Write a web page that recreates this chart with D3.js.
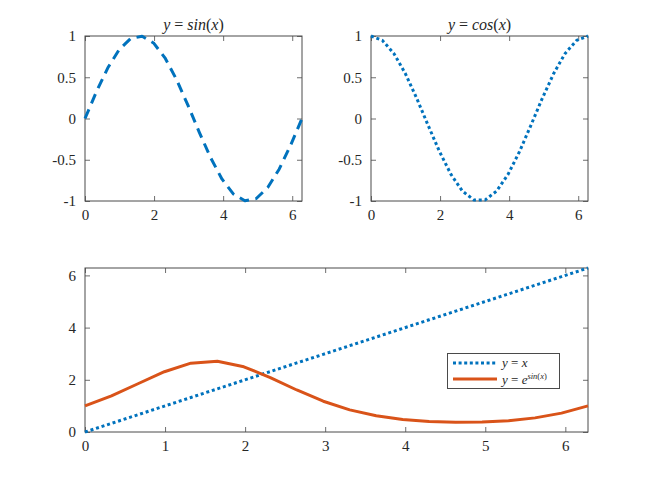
<!DOCTYPE html>
<html>
<head>
<meta charset="utf-8">
<script src="https://cdn.jsdelivr.net/npm/d3@7"></script>
<style>
  html, body { margin: 0; padding: 0; background: #ffffff; }
</style>
</head>
<body>
<svg id="chart" width="650" height="487"></svg>
<script>
// x samples (20 points from 0 to 2*pi)
const xs = [0, 0.3307, 0.6614, 0.9921, 1.3228, 1.6535, 1.9842, 2.3149, 2.6456, 2.9762,
            3.3069, 3.6376, 3.9683, 4.2990, 4.6297, 4.9604, 5.2911, 5.6218, 5.9525, 6.2832];
const sinVals = [0, 0.3247, 0.6142, 0.8372, 0.9694, 0.9966, 0.9158, 0.7357, 0.4759, 0.1646,
                 -0.1646, -0.4759, -0.7357, -0.9158, -0.9966, -0.9694, -0.8372, -0.6142, -0.3247, 0];
const cosVals = [1, 0.9458, 0.7891, 0.5469, 0.2455, -0.0826, -0.4017, -0.6773, -0.8795, -0.9864,
                 -0.9864, -0.8795, -0.6773, -0.4017, -0.0826, 0.2455, 0.5469, 0.7891, 0.9458, 1];
const linVals = [0, 0.3307, 0.6614, 0.9921, 1.3228, 1.6535, 1.9842, 2.3149, 2.6456, 2.9762,
                 3.3069, 3.6376, 3.9683, 4.2990, 4.6297, 4.9604, 5.2911, 5.6218, 5.9525, 6.2832];
const expSinVals = [1, 1.3836, 1.8482, 2.3099, 2.6364, 2.7091, 2.4988, 2.0870, 1.6095, 1.1789,
                    0.8482, 0.6213, 0.4792, 0.4002, 0.3691, 0.3793, 0.4329, 0.5411, 0.7228, 1];

const topXTicks = [0, 2, 4, 6];
const topYTicks = [-1, -0.5, 0, 0.5, 1];
const topYTickLabels = ["-1", "-0.5", "0", "0.5", "1"];
const botXTicks = [0, 1, 2, 3, 4, 5, 6];
const botYTicks = [0, 2, 4, 6];

const BLUE = "#0072BD", ORANGE = "#D95319", AX = "#4a4a4a";
const FONT = "Liberation Serif";
const svg = d3.select("#chart");

function makeAxes(box, xDom, yDom, xt, yt, ytl) {
  const x = d3.scaleLinear().domain(xDom).range([box.x0, box.x1]);
  const y = d3.scaleLinear().domain(yDom).range([box.y1, box.y0]);
  const g = svg.append("g");
  const tl = 5;
  g.append("g").attr("transform", `translate(0,${box.y1})`)
    .call(d3.axisBottom(x).tickValues(xt).tickSizeInner(-tl).tickSizeOuter(0).tickPadding(8).tickFormat(d3.format("d")));
  g.append("g").attr("transform", `translate(0,${box.y0})`)
    .call(d3.axisTop(x).tickValues(xt).tickSizeInner(-tl).tickSizeOuter(0).tickFormat(""));
  g.append("g").attr("transform", `translate(${box.x0},0)`)
    .call(d3.axisLeft(y).tickValues(yt).tickSizeInner(-tl).tickSizeOuter(0).tickPadding(9)
      .tickFormat((d, i) => ytl ? ytl[i] : d3.format("d")(d)));
  g.append("g").attr("transform", `translate(${box.x1},0)`)
    .call(d3.axisRight(y).tickValues(yt).tickSizeInner(-tl).tickSizeOuter(0).tickFormat(""));
  g.selectAll("g").attr("font-family", FONT);
  g.selectAll(".domain").remove();
  g.selectAll(".tick line").attr("stroke", AX).attr("stroke-width", 0.8);
  g.selectAll(".tick text").attr("font-size", 15).attr("fill", "#262626");
  g.append("rect").attr("x", box.x0).attr("y", box.y0)
    .attr("width", box.x1 - box.x0).attr("height", box.y1 - box.y0)
    .attr("fill", "none").attr("stroke", AX).attr("stroke-width", 1);
  return {x, y, g};
}

function drawLine(ax, ys, color, dash, width) {
  const line = d3.line().x((d, i) => ax.x(xs[i])).y(d => ax.y(d));
  svg.append("path").datum(ys).attr("d", line)
    .attr("fill", "none").attr("stroke", color).attr("stroke-width", width)
    .attr("stroke-linejoin", "round")
    .attr("stroke-dasharray", dash || null);
}

function mathTitle(cx, y, parts) {
  const t = svg.append("text").attr("x", cx).attr("y", y).attr("text-anchor", "middle")
    .attr("font-size", 16).attr("font-family", FONT).attr("fill", "#262626");
  parts.forEach(p => {
    const s = t.append("tspan").text(p[0]);
    if (p[1]) s.attr("font-style", "italic");
  });
}

const twoPi = 6.2832;
// Top-left: sin
const a1 = makeAxes({x0: 85, x1: 302, y0: 36, y1: 201}, [0, twoPi], [-1, 1], topXTicks, topYTicks, topYTickLabels);
drawLine(a1, sinVals, BLUE, "10,6.5", 3);
mathTitle((85 + 302) / 2, 30, [["y", 1], [" = ", 0], ["sin", 1], ["(", 0], ["x", 1], [")", 0]]);

// Top-right: cos
const a2 = makeAxes({x0: 371, x1: 588, y0: 36, y1: 201}, [0, twoPi], [-1, 1], topXTicks, topYTicks, topYTickLabels);
drawLine(a2, cosVals, BLUE, "3,2.8", 3);
mathTitle((371 + 588) / 2, 30, [["y", 1], [" = ", 0], ["cos", 1], ["(", 0], ["x", 1], [")", 0]]);

// Bottom
const a3 = makeAxes({x0: 85, x1: 588, y0: 268, y1: 432}, [0, twoPi], [0, twoPi], botXTicks, botYTicks, null);
drawLine(a3, linVals, BLUE, "3,2.8", 3);
drawLine(a3, expSinVals, ORANGE, null, 3);

// Legend
const lg = svg.append("g").attr("font-family", FONT);
lg.append("rect").attr("x", 447.5).attr("y", 353.5).attr("width", 112).attr("height", 35)
  .attr("fill", "#ffffff").attr("stroke", AX).attr("stroke-width", 1);
lg.append("line").attr("x1", 453).attr("x2", 497).attr("y1", 363).attr("y2", 363)
  .attr("stroke", BLUE).attr("stroke-width", 3).attr("stroke-dasharray", "3,2.6");
lg.append("line").attr("x1", 453).attr("x2", 497).attr("y1", 379).attr("y2", 379)
  .attr("stroke", ORANGE).attr("stroke-width", 3);
const t1 = lg.append("text").attr("x", 502).attr("y", 367).attr("font-size", 13).attr("fill", "#262626");
t1.append("tspan").attr("font-style", "italic").text("y");
t1.append("tspan").text(" = ");
t1.append("tspan").attr("font-style", "italic").text("x");
const t2 = lg.append("text").attr("x", 502).attr("y", 384).attr("font-size", 13).attr("fill", "#262626");
t2.append("tspan").attr("font-style", "italic").text("y");
t2.append("tspan").text(" = ");
t2.append("tspan").attr("font-style", "italic").text("e");
t2.append("tspan").attr("font-style", "italic").attr("font-size", 8.5).attr("dy", -5).text("sin");
t2.append("tspan").attr("font-size", 8.5).text("(");
t2.append("tspan").attr("font-style", "italic").attr("font-size", 8.5).text("x");
t2.append("tspan").attr("font-size", 8.5).text(")");
</script>
</body>
</html>
